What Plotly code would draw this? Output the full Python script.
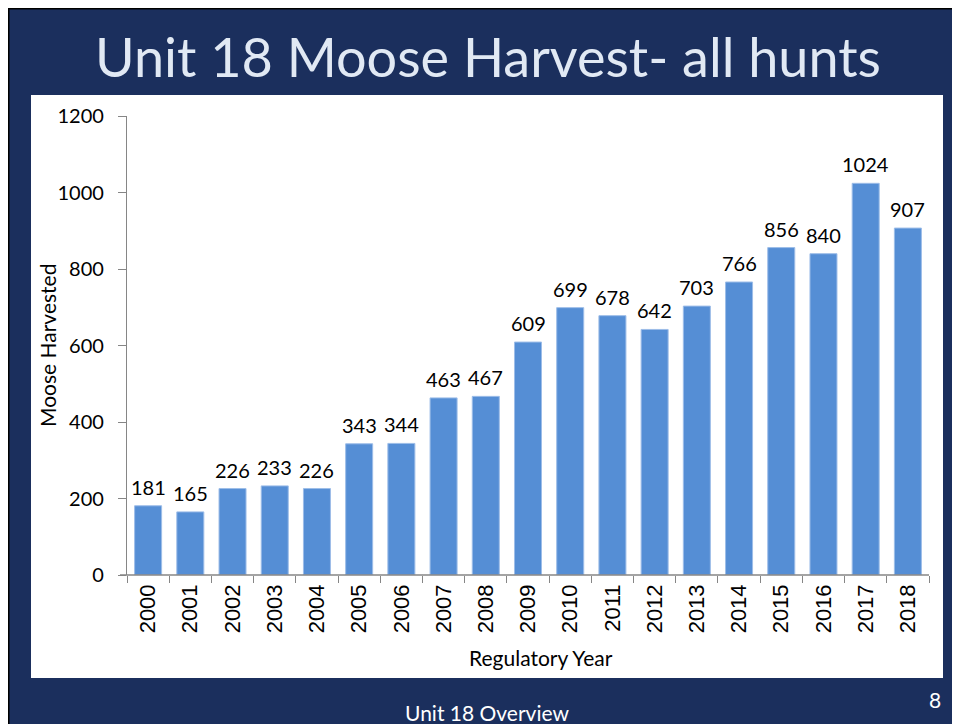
import plotly.graph_objects as go

years = ["2000", "2001", "2002", "2003", "2004", "2005", "2006", "2007", "2008", "2009",
         "2010", "2011", "2012", "2013", "2014", "2015", "2016", "2017", "2018"]
harvest = [181, 165, 226, 233, 226, 343, 344, 463, 467, 609,
           699, 678, 642, 703, 766, 856, 840, 1024, 907]

title_text = "Unit 18 Moose Harvest- all hunts"
x_title = "Regulatory Year"
y_title = "Moose Harvested"
footer_text = "Unit 18 Overview"
page_num = "8"

# page body has an 8px margin; figure sits at (8, 8)
OFF = 8
W, H = 960 - OFF, 724 - OFF
L, R, T, B = 127 - OFF, 31, 116 - OFF, 149
PW, PH = W - L - R, H - T - B

def px(x):
    return (x - OFF - L) / PW

def py(y):
    return (H - B - (y - OFF)) / PH

NAVY = "#1b2f5d"
FONT = "Lato, 'Open Sans', sans-serif"

fig = go.Figure()
fig.add_trace(go.Bar(
    x=years, y=harvest,
    marker=dict(color="#558ED5", line=dict(color="#9dbde8", width=1)),
    width=0.64, hoverinfo="x+y",
))

shapes = [
    dict(type="rect", xref="paper", yref="paper", layer="below",
         x0=px(OFF - 2), x1=px(980), y0=py(740), y1=py(OFF - 2),
         fillcolor="#000000", line=dict(width=0)),
    dict(type="rect", xref="paper", yref="paper", layer="below",
         x0=px(OFF + 1.5), x1=px(980), y0=py(740), y1=py(OFF + 1.5),
         fillcolor=NAVY, line=dict(width=0)),
    dict(type="rect", xref="paper", yref="paper", layer="below",
         x0=px(31), x1=px(943), y0=py(678), y1=py(95),
         fillcolor="#ffffff", line=dict(width=0)),
    dict(type="line", xref="paper", yref="paper",
         x0=px(120), x1=px(929), y0=0, y1=0,
         line=dict(color="#868686", width=1.3)),
]

annotations = [
    dict(text=title_text, xref="paper", yref="paper", x=px(488), y=py(57),
         xanchor="center", yanchor="middle", showarrow=False,
         font=dict(family=FONT, size=54, color="#e1e9f4")),
    dict(text=x_title, xref="paper", yref="paper", x=px(541), y=py(657),
         xanchor="center", yanchor="middle", showarrow=False,
         font=dict(family=FONT, size=21, color="#000000")),
    dict(text=y_title, xref="paper", yref="paper", x=px(47), y=py(346),
         xanchor="center", yanchor="middle", showarrow=False, textangle=-90,
         font=dict(family=FONT, size=21, color="#000000")),
    dict(text=footer_text, xref="paper", yref="paper", x=px(487), y=py(712),
         xanchor="center", yanchor="middle", showarrow=False,
         font=dict(family=FONT, size=21, color="#ffffff")),
    dict(text=page_num, xref="paper", yref="paper", x=px(935), y=py(699),
         xanchor="center", yanchor="middle", showarrow=False,
         font=dict(family=FONT, size=21, color="#ffffff")),
]

# value labels: category index on the x axis, value on the y axis
for i, v in enumerate(harvest):
    annotations.append(dict(
        text=str(v), x=i, y=v, xref="x", yref="y",
        xanchor="center", yanchor="bottom", yshift=5, showarrow=False,
        font=dict(family=FONT, size=20, color="#000000"),
    ))

fig.update_layout(
    width=W, height=H,
    margin=dict(l=L, r=R, t=T, b=B, pad=0),
    paper_bgcolor="#ffffff", plot_bgcolor="#ffffff",
    showlegend=False,
    shapes=shapes, annotations=annotations,
    xaxis=dict(type="category", categoryorder="array", categoryarray=years,
               range=[-0.5, len(years) - 0.5],
               tickangle=-90, tickson="boundaries",
               ticks="outside", ticklen=7, tickcolor="#868686", tickwidth=1.3,
               showline=False, showgrid=False, zeroline=False,
               tickfont=dict(family="Liberation Sans, Arial, sans-serif", size=22, color="#000000"),
               ticklabelstandoff=4),
    yaxis=dict(range=[0, 1200], dtick=200, ticks="outside", ticklen=8,
               tickcolor="#868686", tickwidth=1.3,
               showline=True, linecolor="#868686", linewidth=1.3,
               showgrid=False, zeroline=False,
               tickfont=dict(family=FONT, size=20, color="#000000"),
               ticklabelstandoff=10),
)

fig.write_html("out.html")
